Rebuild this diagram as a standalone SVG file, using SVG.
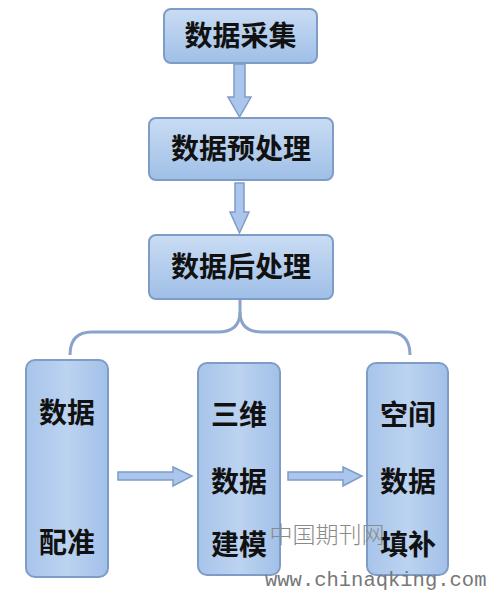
<svg xmlns="http://www.w3.org/2000/svg" width="495" height="591" viewBox="0 0 495 591">
<defs>
<linearGradient id="g" x1="0" y1="0" x2="0" y2="1">
<stop offset="0" stop-color="#c9dcf3"/>
<stop offset="1" stop-color="#9fbfe7"/>
</linearGradient>
<linearGradient id="gv" x1="0" y1="0" x2="1" y2="0">
<stop offset="0" stop-color="#a7c4ea"/>
<stop offset="0.5" stop-color="#bcd3f0"/>
<stop offset="1" stop-color="#a2c0e8"/>
</linearGradient>
<style>
.box{fill:url(#g);stroke:#7f9cc6;stroke-width:2}
.tall{fill:url(#gv);stroke:#7f9cc6;stroke-width:2}
.t{font-family:"Noto Sans CJK SC",sans-serif;font-weight:bold;font-size:28px;fill:#111;text-anchor:middle}
.arr{fill:#aac6ec;stroke:#7f9cc6;stroke-width:1.5}
.brace{fill:none;stroke:#8aa3c8;stroke-width:3}
.wm{font-family:"Noto Sans CJK SC",sans-serif;font-weight:300;font-size:23px;fill:#8a8a8a;text-anchor:middle}
.url{font-family:"Liberation Mono",monospace;font-size:20.5px;fill:#777}
</style>
</defs>
<g id="connectors">
<path class="arr" d="M234,64 H245 V97 H251 L239.5,117 L228,97 H234 Z"/>
<path class="arr" d="M235,183 H244 V212 H249 L239.5,233 L230,212 H235 Z"/>
<path class="brace" d="M240,300 V312 Q240,332 262,332 H388 Q410,332 410,355"/>
<path class="brace" d="M240,312 Q240,332 218,332 H92 Q70,332 70,355"/>
<path class="arr" d="M118,472 H173 V467 L192,476 L173,486 V480 H118 Z"/>
<path class="arr" d="M288,472 H343 V467 L362,476 L343,486 V480 H288 Z"/>
</g>
<g id="n1">
<rect class="box" x="164" y="9" width="153" height="54" rx="7"/>
<text class="t" x="240.5" y="46">数据采集</text>
</g>
<g id="n2">
<rect class="box" x="149" y="118" width="184" height="62" rx="7"/>
<text class="t" x="241" y="159">数据预处理</text>
</g>
<g id="n3">
<rect class="box" x="149" y="235" width="184" height="64" rx="7"/>
<text class="t" x="241" y="277">数据后处理</text>
</g>
<g id="n4">
<rect class="tall" x="26" y="360" width="82" height="217" rx="9"/>
<text class="t" x="67" y="423">数据</text>
<text class="t" x="67" y="553">配准</text>
</g>
<g id="n5">
<rect class="tall" x="198" y="363" width="82" height="212" rx="9"/>
<text class="t" x="239" y="425">三维</text>
<text class="t" x="239" y="492">数据</text>
<text class="t" x="239" y="555">建模</text>
</g>
<g id="n6">
<rect class="tall" x="367" y="363" width="81" height="212" rx="9"/>
<text class="t" x="408" y="425">空间</text>
<text class="t" x="408" y="492">数据</text>
<text class="t" x="408" y="555">填补</text>
</g>
<text class="wm" x="327" y="543">中国期刊网</text>
<text class="url" x="265" y="586">www.chinaqking.com</text>
</svg>
